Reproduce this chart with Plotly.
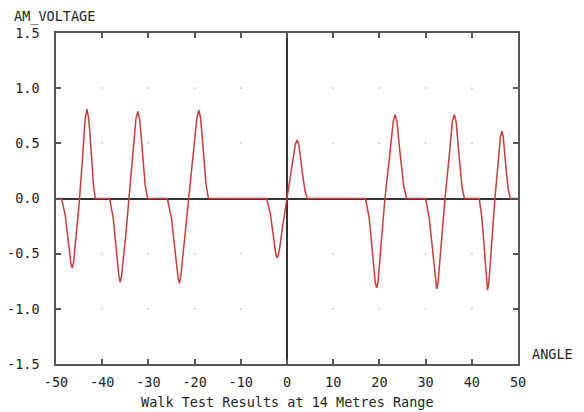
import plotly.graph_objects as go

# Angle (degrees) and AM voltage samples
angle = [
    -50, -48.8, -48.0, -47.3, -46.8, -46.5, -46.2, -45.6, -44.9, -44.2, -43.7, -43.3, -42.9, -42.3, -41.9, -41.5,
    -38.4, -37.6, -36.9, -36.4, -36.1, -35.8, -35.0, -34.2, -33.4, -32.7, -32.3, -31.9, -31.2, -30.7, -30.2,
    -25.9, -25.0, -24.2, -23.6, -23.3, -23.0, -22.2, -21.3, -20.4, -19.5, -19.1, -18.7, -18.0, -17.5, -17.0,
    -4.4, -3.6, -2.9, -2.4, -2.1, -1.7, -0.9, 0.0, 0.9, 1.8, 2.2, 2.6, 3.3, 3.9, 4.4,
    17.0, 17.8, 18.5, 19.1, 19.4, 19.7, 20.4, 21.2, 22.2, 23.0, 23.4, 23.8, 24.6, 25.3, 25.9,
    30.0, 30.8, 31.6, 32.1, 32.4, 32.7, 33.4, 34.2, 35.1, 35.8, 36.2, 36.6, 37.3, 37.9, 38.4,
    41.6, 42.2, 42.8, 43.2, 43.4, 43.7, 44.3, 45.0, 45.7, 46.2, 46.5, 46.8, 47.4, 47.9, 48.3, 50,
]
am_voltage = [
    0, 0, -0.15, -0.42, -0.58, -0.63, -0.58, -0.32, 0, 0.40, 0.72, 0.81, 0.72, 0.38, 0.12, 0,
    0, -0.18, -0.50, -0.70, -0.76, -0.70, -0.38, 0, 0.40, 0.72, 0.79, 0.72, 0.38, 0.12, 0,
    0, -0.18, -0.50, -0.71, -0.77, -0.71, -0.38, 0, 0.40, 0.73, 0.80, 0.73, 0.38, 0.12, 0,
    0, -0.14, -0.38, -0.51, -0.54, -0.48, -0.24, 0, 0.27, 0.49, 0.53, 0.48, 0.24, 0.07, 0,
    0, -0.18, -0.52, -0.76, -0.81, -0.76, -0.40, 0, 0.38, 0.70, 0.76, 0.70, 0.36, 0.10, 0,
    0, -0.18, -0.52, -0.76, -0.82, -0.76, -0.40, 0, 0.38, 0.70, 0.76, 0.70, 0.36, 0.10, 0,
    0, -0.18, -0.52, -0.77, -0.83, -0.76, -0.40, 0, 0.32, 0.56, 0.61, 0.56, 0.28, 0.08, 0, 0,
]

x_ticks = [-50, -40, -30, -20, -10, 0, 10, 20, 30, 40, 50]
y_ticks = [-1.5, -1.0, -0.5, 0.0, 0.5, 1.0, 1.5]

title_text = "Walk Test Results at 14 Metres Range"
y_label = "AM_VOLTAGE"
x_label = "ANGLE"

FONT = "DejaVu Sans Mono"
TXT = "#1e1e1e"
FS = 13.5

# grid dots at interior tick intersections
gx, gy = [], []
for xv in x_ticks[1:-1]:
    if xv == 0:
        continue
    for yv in y_ticks[1:-1]:
        if yv == 0:
            continue
        gx.append(xv)
        gy.append(yv)

fig = go.Figure()
fig.add_trace(go.Scatter(x=gx, y=gy, mode="markers",
                         marker=dict(size=2, color="#c8c8c8"),
                         hoverinfo="skip", showlegend=False))
fig.add_trace(go.Scatter(x=angle, y=am_voltage, mode="lines",
                         line=dict(color="#d03a36", width=1.5),
                         showlegend=False))

axis_common = dict(
    showgrid=False, showline=True, linecolor="#555555", linewidth=1.5,
    mirror="ticks", ticks="inside", ticklen=5, tickcolor="#555555", tickwidth=1.5,
    zeroline=True, zerolinecolor="#333333", zerolinewidth=1.5,
    tickfont=dict(family=FONT, size=FS, color=TXT), automargin=False,
)

fig.update_xaxes(range=[-50, 50], tickvals=x_ticks,
                 ticktext=[str(v) for v in x_ticks],
                 ticklabelstandoff=5, **axis_common)
fig.update_yaxes(range=[-1.5, 1.5], tickvals=y_ticks,
                 ticktext=[f"{v:.1f}" for v in y_ticks],
                 ticklabelstandoff=12, **axis_common)

# page body has an 8px margin, so the figure is 8px smaller than the window
fig.update_layout(
    width=576, height=404,
    margin=dict(l=48, r=66, t=25, b=48),
    paper_bgcolor="white", plot_bgcolor="white",
    font=dict(family=FONT, size=FS, color=TXT),
    annotations=[
        dict(text=y_label, xref="paper", yref="paper", x=0, y=1.0,
             xanchor="left", yanchor="bottom", xshift=-44, yshift=6, showarrow=False,
             font=dict(family=FONT, size=FS, color=TXT)),
        dict(text=x_label, xref="paper", yref="paper", x=1.0, y=0.0,
             xanchor="left", yanchor="bottom", xshift=12, showarrow=False,
             font=dict(family=FONT, size=FS, color=TXT)),
        dict(text=title_text, xref="paper", yref="paper", x=0.5, y=0.0,
             xanchor="center", yanchor="top", yshift=-28, showarrow=False,
             font=dict(family=FONT, size=FS, color=TXT)),
    ],
)

fig.write_html("out.html")
